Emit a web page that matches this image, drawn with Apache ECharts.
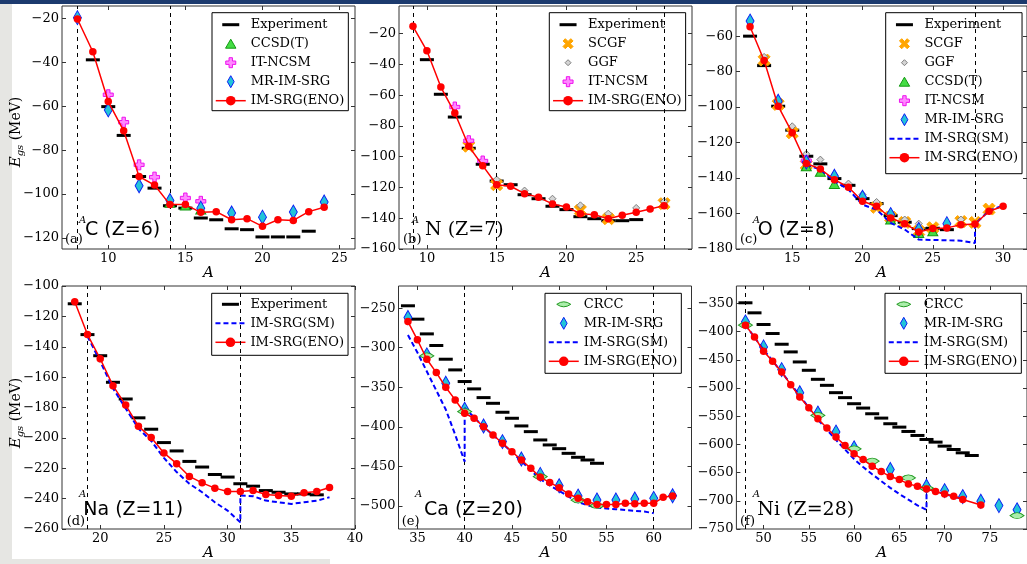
<!DOCTYPE html>
<html>
<head>
<meta charset="utf-8">
<title>Ground-state energies</title>
<script src="https://cdn.jsdelivr.net/npm/echarts@6.0.0/dist/echarts.min.js"></script>
<style>
  html, body { margin: 0; padding: 0; background: #fff; }
  #main { width: 1027px; height: 564px; }
</style>
</head>
<body>
<div id="main"></div>
<script>
// (a) carbon
var cEnoA = [8,9,10,11,12,13,14,15,16,17,18,19,20,21,22,23,24];
var cEno  = [-20.3,-35.2,-57.9,-71.2,-92.0,-95.9,-104.8,-104.8,-108.3,-108.0,-111.7,-111.2,-114.7,-111.7,-112.0,-108.0,-106.0];
var cExpA = [9,10,11,12,13,14,15,16,17,18,19,20,21,22,23];
var cExp  = [-38.9,-60.2,-73.3,-92.0,-97.3,-105.3,-106.4,-110.9,-111.7,-115.8,-116.2,-119.5,-119.5,-119.5,-116.9];
var cCcA  = [14,15,16];
var cCc   = [-104.0,-105.2,-107.0];
var cNcsmA = [10,11,12,13,15,16];
var cNcsm  = [-54.8,-67.3,-86.7,-92.3,-101.8,-103.3];
var cMrA  = [8,10,12,14,16,18,20,22,24];
var cMr   = [-19.7,-61.7,-96.2,-102.9,-106.4,-108.6,-110.5,-108.2,-103.6];
var cRef  = [8,14];

// (b) nitrogen
var nEnoA = [9,10,11,12,13,14,15,16,17,18,19,20,21,22,23,24,25,26,27];
var nEno  = [-15.2,-31.1,-54.7,-71.6,-93.2,-105.8,-118.2,-119.2,-124.0,-126.4,-130.7,-132.7,-137.0,-137.7,-140.3,-138.1,-136.1,-134.0,-131.8];
var nExpA = [10,11,12,13,14,15,16,17,18,19,20,21,22,23,24,25];
var nExp  = [-36.9,-59.4,-74.2,-94.5,-104.9,-115.8,-118.2,-124.7,-127.3,-132.2,-134.4,-139.0,-140.3,-141.6,-141.6,-140.9];
var nScgfA = [13,15,21,23,27];
var nScgf  = [-93.2,-118.2,-134.8,-140.3,-130.5];
var nGgfA = [15,17,19,21,23,25,27];
var nGgf  = [-114.9,-122.0,-127.3,-131.6,-137.0,-133.3,-129.0];
var nNcsmA = [12,13,14];
var nNcsm  = [-67.7,-89.6,-102.8];
var nRef  = [9,15,27];

// (c) oxygen
var oEnoA = [12,13,14,15,16,17,18,19,20,21,22,23,24,25,26,27,28,29,30];
var oEno  = [-54.7,-73.7,-99.5,-114.5,-131.8,-134.9,-140.9,-145.2,-153.1,-155.9,-162.5,-165.7,-170.4,-168.5,-168.1,-166.3,-165.9,-158.7,-155.9];
var oExpA = [12,13,14,15,16,17,18,19,20,21,22,23,24,25,26];
var oExp  = [-60.0,-76.6,-99.5,-113.0,-127.7,-132.0,-140.3,-144.1,-151.6,-154.4,-161.2,-164.9,-168.5,-168.3,-169.1];
var oScgfA = [13,14,15,16,21,22,23,24,25,27,28,29];
var oScgf  = [-73.5,-98.5,-114.5,-132.5,-156.5,-162.0,-165.0,-170.0,-168.0,-164.5,-165.0,-157.5];
var oGgfA = [13,15,16,17,18,19,20,21,22,23,24,27];
var oGgf  = [-71.7,-110.8,-126.4,-129.6,-138.4,-143.1,-149.3,-153.5,-161.2,-163.4,-165.7,-163.4];
var oCcA  = [16,17,18,22,24,25];
var oCc   = [-133.4,-136.5,-143.3,-163.4,-171.0,-170.0];
var oNcsmA = [16];
var oNcsm  = [-130.2];
var oMrA  = [12,14,16,18,20,22,24,26];
var oMr   = [-51.5,-96.7,-131.0,-139.0,-150.8,-160.6,-169.0,-165.7];
var oSmA  = [16,17,18,19,20,21,22,23,24,25,26,27,28,28,29,30];
var oSm   = [-132.4,-135.2,-141.8,-146.5,-155.0,-157.8,-165.3,-169.0,-174.7,-174.9,-175.1,-175.3,-176.6,-165.9,-158.5,-155.5];
var oRef  = [16,28];

// (d) sodium
var naEnoA = [18,19,20,21,22,23,24,25,26,27,28,29,30,31,32,33,34,35,36,37,38];
var naEno  = [-110.4,-132.0,-147.9,-165.6,-178.4,-192.3,-199.8,-209.9,-217.0,-225.4,-229.6,-233.1,-235.3,-235.3,-234.7,-237.3,-238.0,-238.4,-236.2,-235.3,-232.7];
var naExpA = [18,19,20,21,22,23,24,25,26,27,28,29,30,31,32,33,34,35,36,37];
var naExp  = [-111.7,-132.0,-145.9,-163.4,-174.4,-186.8,-194.3,-203.1,-208.6,-215.5,-219.2,-224.1,-225.8,-230.2,-231.8,-234.7,-235.8,-236.9,-236.9,-237.5];
var naSmA  = [19,20,21,22,23,24,25,26,27,28,29,30,31,31,32,33,34,35,36,37,38];
var naSm   = [-133.1,-149.7,-167.3,-180.6,-193.8,-202.0,-213.2,-222.5,-230.2,-235.8,-242.4,-247.9,-255.6,-238.0,-238.4,-241.3,-242.4,-243.5,-242.4,-241.3,-239.1];
var naRef  = [19,31];

// (e) calcium
var caEnoA = [34,35,36,37,38,39,40,41,42,43,44,45,46,47,48,49,50,51,52,53,54,55,56,57,58,59,60,61,62];
var caEno  = [-266.9,-290.0,-314.5,-331.4,-349.9,-365.9,-382.8,-389.1,-399.7,-410.2,-420.7,-431.3,-441.8,-452.4,-463.7,-470.1,-476.8,-484.8,-490.3,-494.5,-497.9,-497.9,-497.9,-496.6,-497.0,-496.6,-496.6,-489.0,-487.4];
var caExpA = [34,35,36,37,38,39,40,41,42,43,44,45,46,47,48,49,50,51,52,53,54];
var caExp  = [-247.0,-263.9,-282.5,-297.2,-314.5,-328.0,-342.7,-352.0,-363.0,-370.2,-381.5,-389.1,-398.8,-406.0,-416.5,-422.8,-427.5,-433.4,-438.4,-441.8,-446.0];
var caMrA  = [34,36,38,40,42,44,46,48,50,52,54,56,58,60,62];
var caMr   = [-261.8,-309.0,-344.9,-377.7,-398.8,-418.6,-440.6,-460.0,-474.3,-487.4,-492.4,-492.4,-491.1,-490.3,-487.0];
var caCrccA = [36,40,48,52,54];
var caCrcc  = [-310.3,-380.7,-462.9,-492.4,-499.6];
var caSmA  = [34,35,36,37,38,39,40,40,41,42,43,44,45,46,47,48,49,50,51,52,53,54,55,56,57,58,59,60];
var caSm   = [-284,-306,-330,-354,-378,-410,-444,-376,-388,-400,-410,-421,-432,-443,-455,-466,-474,-481,-488,-495,-499,-502,-503,-504,-505,-506,-507,-509];
var caRef  = [40,60];

// (f) nickel
var niEnoA = [48,49,50,51,52,53,54,55,56,57,58,59,60,61,62,63,64,65,66,67,68,69,70,71,72,74];
var niEno  = [-388.5,-409.3,-434.7,-452.6,-471.6,-494.0,-516.0,-534.9,-554.4,-571.0,-587.0,-601.9,-616.7,-626.8,-638.6,-648.1,-657.0,-662.3,-670.0,-674.1,-678.9,-683.6,-687.8,-691.9,-697.8,-707.3];
var niExpA = [48,49,50,51,52,53,54,55,56,57,58,59,60,61,62,63,64,65,66,67,68,69,70,71,72,73];
var niExp  = [-348.8,-366.6,-387.3,-403.3,-422.3,-435.9,-453.7,-468.5,-484.5,-495.2,-508.2,-517.0,-527.8,-535.5,-545.6,-553.3,-563.3,-569.3,-577.0,-584.1,-591.2,-595.9,-603.0,-609.0,-614.9,-619.6];
var niMrA  = [48,50,52,54,56,58,60,64,68,70,72,74,76,78];
var niMr   = [-382.6,-427.0,-467.3,-508.2,-544.4,-578.1,-606.0,-644.5,-674.1,-681.9,-692.5,-700.8,-708.5,-716.0];
var niCrccA = [48,56,60,62,66,68,78];
var niCrcc  = [-388.5,-548.5,-607.8,-629.7,-659.3,-677.7,-726.3];
var niSmA  = [48,49,50,51,52,53,54,55,56,57,58,59,60,61,62,63,64,65,66,67,68,68,70,72];
var niSm   = [-388,-410,-432,-452,-472,-493,-513,-535,-556,-574,-592,-609,-626,-640,-653,-665,-677,-688,-698,-708,-716,-679,-688,-697];
var niRef  = [48,68];

// tick labels
var xTicks = [[10,15,20,25],[10,15,20,25],[15,20,25,30],[20,25,30,35,40],[35,40,45,50,55,60],[50,55,60,65,70,75]];
var yTicks = [[-120,-100,-80,-60,-40,-20],[-160,-140,-120,-100,-80,-60,-40,-20],[-180,-160,-140,-120,-100,-80,-60],
              [-260,-240,-220,-200,-180,-160,-140,-120,-100],[-500,-450,-400,-350,-300,-250],[-750,-700,-650,-600,-550,-500,-450,-400,-350]];
var tags = ['(a)','(b)','(c)','(d)','(e)','(f)'];
var nuclei = ['C (Z=6)','N (Z=7)','O (Z=8)','Na (Z=11)','Ca (Z=20)','Ni (Z=28)'];

// layout of the six panels
var panels = [
  {left: 62,    top: 6,   xMin: 7,  xMax: 26,   yMin: -125, yMax: -14.4},
  {left: 399,   top: 6,   xMin: 8,  xMax: 29,   yMin: -160, yMax: -2},
  {left: 736,   top: 6,   xMin: 11, xMax: 31.7, yMin: -180, yMax: -43},
  {left: 62,    top: 286, xMin: 17, xMax: 40,   yMin: -260, yMax: -100},
  {left: 398.5, top: 286, xMin: 33, xMax: 64,   yMin: -529, yMax: -222},
  {left: 736.4, top: 286, xMin: 47, xMax: 79.1, yMin: -750, yMax: -319}
];
var PW = 293, PH = 243;
var SERIF = 'DejaVu Serif', SANS = 'DejaVu Sans';

var SYM = {
  bar:  'path://M-7,-1.5 L7,-1.5 L7,1.5 L-7,1.5 Z',
  diam: 'path://M0,-10 L6,0 L0,10 L-6,0 Z',
  tri:  'path://M0,-8.66 L10,8.66 L-10,8.66 Z',
  plus: 'path://M-1.7,-5 L1.7,-5 L1.7,-1.7 L5,-1.7 L5,1.7 L1.7,1.7 L1.7,5 L-1.7,5 L-1.7,1.7 L-5,1.7 L-5,-1.7 L-1.7,-1.7 Z',
  x:    'path://M2.76,-5.02 L5.02,-2.76 L2.26,0 L5.02,2.76 L2.76,5.02 L0,2.26 L-2.76,5.02 L-5.02,2.76 L-2.26,0 L-5.02,-2.76 L-2.76,-5.02 L0,-2.26 Z',
  gd:   'path://M0,-10 L10,0 L0,10 L-10,0 Z',
  lens: 'path://M-10,0 Q0,-8 10,0 Q0,8 -10,0 Z'
};
// legend icons padded to the 30x12 icon box
var PAD = 'path://M-15,-6 M15,6 ';
var LEG = {
  bar:  PAD + 'M-8.5,-1.5 L8.5,-1.5 L8.5,1.5 L-8.5,1.5 Z',
  tri:  PAD + 'M0,-4.5 L5.2,4.5 L-5.2,4.5 Z',
  plus: PAD + 'M-1.7,-5 L1.7,-5 L1.7,-1.7 L5,-1.7 L5,1.7 L1.7,1.7 L1.7,5 L-1.7,5 L-1.7,1.7 L-5,1.7 L-5,-1.7 L-1.7,-1.7 Z',
  diam: PAD + 'M0,-6 L3.4,0 L0,6 L-3.4,0 Z',
  x:    PAD + 'M2.76,-5.02 L5.02,-2.76 L2.26,0 L5.02,2.76 L2.76,5.02 L0,2.26 L-2.76,5.02 L-5.02,2.76 L-2.26,0 L-5.02,-2.76 L-2.76,-5.02 L0,-2.26 Z',
  gd:   PAD + 'M0,-3 L3,0 L0,3 L-3,0 Z',
  lens: PAD + 'M-7,0 Q0,-5 7,0 Q0,5 -7,0 Z',
  dash: PAD + 'M-15,-1 L-10,-1 L-10,1 L-15,1 Z M-7,-1 L-2,-1 L-2,1 L-7,1 Z M1,-1 L6,-1 L6,1 L1,1 Z M9,-1 L14,-1 L14,1 L9,1 Z'
};

var STY = {
  'CCSD(T)':   {symbol: SYM.tri,  size: [10, 9],  color: '#44dd44', border: '#119911', z: 4},
  'IT-NCSM':   {symbol: SYM.plus, size: 10,       color: '#ff88ff', border: '#ee11ee', z: 4},
  'MR-IM-SRG': {symbol: SYM.diam, size: [8, 14],  color: '#22c4d8', border: '#0b1cf5', z: 5},
  'SCGF':      {symbol: SYM.x,    size: 12,       color: '#ffa500', border: '#ffa500', z: 3},
  'GGF':       {symbol: SYM.gd,   size: 7,        color: '#d4d4d4', border: '#7f7f7f', z: 4},
  'CRCC':      {symbol: SYM.lens, size: [14, 6],  color: '#aaeeaa', border: '#229922', z: 6}
};

function pts(xs, ys) { return xs.map(function (x, i) { return [x, ys[i]]; }); }

function expSeries(p, xs, ys, ref) {
  return {
    name: 'Experiment', type: 'scatter', xAxisIndex: p, yAxisIndex: p, z: 2,
    data: pts(xs, ys), symbol: SYM.bar, symbolSize: [14, 3],
    itemStyle: {color: '#000', opacity: 1},
    markLine: {
      silent: true, symbol: ['none', 'none'], label: {show: false},
      lineStyle: {color: '#000', width: 1, type: [4, 4]},
      data: ref.map(function (a) { return {xAxis: a}; })
    }
  };
}
function enoSeries(p, xs, ys) {
  return {
    name: 'IM-SRG(ENO)', type: 'line', xAxisIndex: p, yAxisIndex: p, z: 8,
    data: pts(xs, ys), symbol: 'circle', symbolSize: 7.5, showAllSymbol: true,
    lineStyle: {color: '#ff0000', width: 1.5}, itemStyle: {color: '#ff0000'}
  };
}
function smSeries(p, xs, ys) {
  return {
    name: 'IM-SRG(SM)', type: 'line', xAxisIndex: p, yAxisIndex: p, z: 6,
    data: pts(xs, ys), symbol: 'none',
    lineStyle: {color: '#0000ff', width: 2, type: [5, 3]}, itemStyle: {color: '#0000ff'}
  };
}
function markSeries(p, name, xs, ys) {
  var s = STY[name];
  return {
    name: name, type: 'scatter', xAxisIndex: p, yAxisIndex: p, z: s.z,
    data: pts(xs, ys), symbol: s.symbol, symbolSize: s.size,
    itemStyle: {color: s.color, borderColor: s.border, borderWidth: 1, opacity: 1}
  };
}

var series = [
  expSeries(0, cExpA, cExp, cRef),
  markSeries(0, 'CCSD(T)', cCcA, cCc),
  markSeries(0, 'IT-NCSM', cNcsmA, cNcsm),
  markSeries(0, 'MR-IM-SRG', cMrA, cMr),
  enoSeries(0, cEnoA, cEno),

  expSeries(1, nExpA, nExp, nRef),
  markSeries(1, 'SCGF', nScgfA, nScgf),
  markSeries(1, 'GGF', nGgfA, nGgf),
  markSeries(1, 'IT-NCSM', nNcsmA, nNcsm),
  enoSeries(1, nEnoA, nEno),

  expSeries(2, oExpA, oExp, oRef),
  markSeries(2, 'SCGF', oScgfA, oScgf),
  markSeries(2, 'GGF', oGgfA, oGgf),
  markSeries(2, 'CCSD(T)', oCcA, oCc),
  markSeries(2, 'IT-NCSM', oNcsmA, oNcsm),
  markSeries(2, 'MR-IM-SRG', oMrA, oMr),
  smSeries(2, oSmA, oSm),
  enoSeries(2, oEnoA, oEno),

  expSeries(3, naExpA, naExp, naRef),
  smSeries(3, naSmA, naSm),
  enoSeries(3, naEnoA, naEno),

  expSeries(4, caExpA, caExp, caRef),
  markSeries(4, 'MR-IM-SRG', caMrA, caMr),
  markSeries(4, 'CRCC', caCrccA, caCrcc),
  smSeries(4, caSmA, caSm),
  enoSeries(4, caEnoA, caEno),

  expSeries(5, niExpA, niExp, niRef),
  markSeries(5, 'MR-IM-SRG', niMrA, niMr),
  markSeries(5, 'CRCC', niCrccA, niCrcc),
  smSeries(5, niSmA, niSm),
  enoSeries(5, niEnoA, niEno)
];
series.forEach(function (s) { s.emphasis = {disabled: true}; });

function minus(v) { return String(v).replace('-', '\u2212'); }
var tickStyle = {inside: true, length: 4, lineStyle: {color: '#333', width: 1}};
var labelFont = {fontFamily: SERIF, fontSize: 13, color: '#000'};

var grids = [], xAxes = [], yAxes = [];
panels.forEach(function (p, i) {
  grids.push({left: p.left, top: p.top, width: PW, height: PH, show: true,
              borderColor: '#333', borderWidth: 1, backgroundColor: 'transparent'});
  xAxes.push({
    type: 'value', gridIndex: i, position: 'bottom', min: p.xMin, max: p.xMax,
    axisLine: {show: false}, splitLine: {show: false},
    axisTick: Object.assign({customValues: xTicks[i]}, tickStyle),
    axisLabel: Object.assign({customValues: xTicks[i], formatter: minus, margin: 3}, labelFont),
    name: 'A', nameLocation: 'middle', nameGap: 12,
    nameTextStyle: {fontFamily: SERIF, fontStyle: 'italic', fontSize: 15, color: '#000'}
  });
  yAxes.push({
    type: 'value', gridIndex: i, position: 'left', min: p.yMin, max: p.yMax,
    axisLine: {show: false}, splitLine: {show: false},
    axisTick: Object.assign({customValues: yTicks[i]}, tickStyle),
    axisLabel: Object.assign({customValues: yTicks[i], formatter: minus, margin: 3}, labelFont)
  });
});
// mirrored axes carry the inward ticks on the top and right spines
panels.forEach(function (p, i) {
  xAxes.push({
    type: 'value', gridIndex: i, position: 'top', min: p.xMin, max: p.xMax,
    axisLine: {show: false}, splitLine: {show: false}, axisLabel: {show: false},
    axisTick: Object.assign({customValues: xTicks[i]}, tickStyle)
  });
  yAxes.push({
    type: 'value', gridIndex: i, position: 'right', min: p.yMin, max: p.yMax,
    axisLine: {show: false}, splitLine: {show: false}, axisLabel: {show: false},
    axisTick: Object.assign({customValues: yTicks[i]}, tickStyle)
  });
});

function legendBox(left, top, pad, items) {
  return {
    left: left, top: top, orient: 'vertical', selectedMode: false,
    itemWidth: 30, itemHeight: 12, itemGap: 5, padding: pad,
    borderColor: '#000', borderWidth: 1, borderRadius: 0, backgroundColor: '#fff',
    itemStyle: {borderWidth: 1}, lineStyle: {width: 1.5},
    textStyle: {fontFamily: SERIF, fontSize: 13, color: '#000', lineHeight: 14},
    data: items
  };
}
var L_EXP = {name: 'Experiment', icon: LEG.bar};
var L_CC = {name: 'CCSD(T)', icon: LEG.tri};
var L_NC = {name: 'IT-NCSM', icon: LEG.plus};
var L_MR = {name: 'MR-IM-SRG', icon: LEG.diam};
var L_SC = {name: 'SCGF', icon: LEG.x};
var L_GG = {name: 'GGF', icon: LEG.gd};
var L_CR = {name: 'CRCC', icon: LEG.lens};
var L_SM = {name: 'IM-SRG(SM)', icon: LEG.dash};
var L_ENO = {name: 'IM-SRG(ENO)'};

var legends = [
  legendBox(212, 12.7, [5, 4, 3, 3], [L_EXP, L_CC, L_NC, L_MR, L_ENO]),
  legendBox(549.3, 12.7, [5, 4, 3, 3], [L_EXP, L_SC, L_GG, L_NC, L_ENO]),
  legendBox(885.7, 12.7, [5, 4, 9, 3], [L_EXP, L_SC, L_GG, L_CC, L_NC, L_MR, L_SM, L_ENO]),
  legendBox(211.7, 293.3, [4, 4, 6, 3], [L_EXP, L_SM, L_ENO]),
  legendBox(545, 293.3, [4, 4, 5, 3], [L_CR, L_MR, L_SM, L_ENO]),
  legendBox(885, 293.3, [4, 4, 5, 3], [L_CR, L_MR, L_SM, L_ENO])
];

// panel annotations
var annoPos = [
  {tag: 65,    sup: 79,    big: 85,    row: 0, serif: false},
  {tag: 403,   sup: 411.7, big: 425,   row: 0, serif: true},
  {tag: 740,   sup: 752.7, big: 757.7, row: 0, serif: false},
  {tag: 66.7,  sup: 79,    big: 83.3,  row: 1, serif: false},
  {tag: 401.7, sup: 415,   big: 424,   row: 1, serif: false},
  {tag: 740,   sup: 752.7, big: 757.3, row: 1, serif: true}
];
var rowY = [{tag: 240, sup: 220.5, big: 230}, {tag: 522, sup: 494.5, big: 510.5}];

var graphic = [
  {type: 'rect', shape: {x: 0, y: 0, width: 1027, height: 4}, style: {fill: '#1c3a6e'}, silent: true},
  {type: 'rect', shape: {x: 0, y: 4, width: 12, height: 560}, style: {fill: '#e6e6e3'}, silent: true},
  {type: 'rect', shape: {x: 0, y: 559, width: 330, height: 5}, style: {fill: '#e6e6e3'}, silent: true}
];
annoPos.forEach(function (a, i) {
  var ry = rowY[a.row];
  graphic.push({type: 'text', x: a.tag, y: ry.tag, silent: true,
    style: {text: tags[i], fontFamily: SERIF, fontSize: 13, fill: '#000', align: 'left', verticalAlign: 'middle'}});
  graphic.push({type: 'text', x: a.sup, y: ry.sup, silent: true,
    style: {text: 'A', fontFamily: SERIF, fontStyle: 'italic', fontSize: 10, fill: '#000', align: 'left', verticalAlign: 'middle'}});
  graphic.push({type: 'text', x: a.big, y: ry.big, silent: true,
    style: {text: nuclei[i], fontFamily: a.serif ? SERIF : SANS, fontSize: 19, fill: '#000', align: 'left', verticalAlign: 'middle'}});
});
[132, 413].forEach(function (cy) {
  graphic.push({type: 'text', x: 16, y: cy, rotation: Math.PI / 2, silent: true,
    style: {
      text: '{e|E}{s|gs}{m| (MeV)}', align: 'center', verticalAlign: 'middle', fill: '#000',
      rich: {
        e: {fontFamily: SERIF, fontStyle: 'italic', fontSize: 15, lineHeight: 18},
        s: {fontFamily: SERIF, fontStyle: 'italic', fontSize: 10, lineHeight: 10, verticalAlign: 'bottom'},
        m: {fontFamily: SERIF, fontSize: 14, lineHeight: 18}
      }
    }});
});

var myChart = echarts.init(document.getElementById('main'));
myChart.setOption({
  animation: false,
  backgroundColor: '#fff',
  grid: grids,
  xAxis: xAxes,
  yAxis: yAxes,
  legend: legends,
  graphic: graphic,
  series: series
});
</script>
</body>
</html>
